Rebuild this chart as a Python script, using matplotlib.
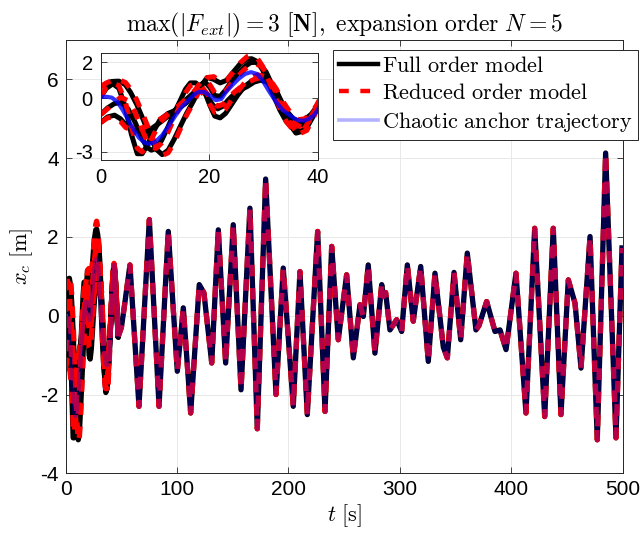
import matplotlib
matplotlib.use("Agg")
import matplotlib.pyplot as plt

plt.rcParams['mathtext.fontset'] = 'cm'
plt.rcParams['font.family'] = ['Liberation Sans', 'DejaVu Sans']
plt.rcParams['axes.unicode_minus'] = False

# ---------------- data ----------------
# shared (converged) trajectory, t >= 47.2 s
common_t = [47.2, 50, 52.5, 57.7, 65.8, 75.1, 83.8, 92.1, 100.2, 105.6, 112.2, 119.9, 124.1,
            131.1, 137, 143.6, 150.4, 157.4, 165.4, 172, 179.5, 188.8, 195.3, 204.3, 210.3,
            216.9, 226.2, 232.8, 238.8, 244.7, 252.2, 258.2, 264.2, 267.2, 271.6, 277.6,
            283.7, 285.1, 287.2, 291.1, 297.1, 301.6, 306.7, 312, 318.7, 325.5, 331.5, 339,
            342.6, 348.6, 354.6, 360.5, 368.3, 371, 377.9, 385.4, 389.9, 395.3, 404.2, 413.2,
            421, 430, 437.7, 444.6, 451.2, 457.2, 462.6, 470.7, 477.2, 484.7, 494, 499.4]
common_x = [-0.52, -0.3, 0.2, 1.29, -2.30, 2.44, -2.30, 2.14, -1.41, 0.20, -2.47, 0.79, 0.58,
            -1.2, 2.18, -1.2, 2.31, -1.88, 2.73, -2.87, 3.47, -2.0, 1.21, -2.30, 1.12,
            -2.51, 2.14, -2.43, 1.76, -0.61, 1.04, -1.07, 0.28, -0.02, 1.29, -0.95,
            0.79, 0.49, 0.59, -0.36, -0.10, -0.40, 1.29, -0.14, 1.25, -1.16, 1.08, -0.8,
            -1.07, 1.10, -0.61, 1.59, -0.36, -0.25, 0.36, -0.40, -0.36, -0.86, 1.08, -2.47,
            2.22, -2.56, 2.22, -2.51, 0.91, 0.32, -1.33, 2.01, -3.15, 4.13, -3.10, 1.72]

# chaotic anchor trajectory, initial transient
anchor_t = [0, 1, 2, 3, 4, 5, 6, 7, 8, 8.9, 10, 11.3, 12.5, 13.8, 15, 16.2, 17.2, 18, 19, 20.1,
            21.2, 22.2, 23.1, 24.3, 25.5, 26.6, 27.7, 28.8, 29.8, 31, 32.3, 33.5, 34.8, 35.8,
            36.6, 37.6, 38.5, 39.3, 40, 41, 42, 42.8, 43.4, 44.2, 45, 46.1, 47.2]
anchor_x = [0.07, 0.08, 0.03, -0.2, -0.65, -1.2, -1.75, -2.2, -2.48, -2.55, -2.45, -2.07, -1.55,
            -0.95, -0.45, -0.1, 0.2, 0.35, 0.35, 0.15, -0.11, -0.05, 0.35, 0.75, 1.1, 1.35, 1.45,
            1.35, 1.0, 0.4, -0.2, -0.65, -0.95, -1.15, -1.25, -1.25, -1.14, -0.95, -0.67, -0.05,
            0.6, 1.1, 1.29, 1.15, 0.6, 0.0, -0.52]

# full order model, initial transients (4 initial conditions)
full1_t = [0, 1, 2, 3.3, 4.5, 5.5, 6.6, 7.8, 9, 10.2, 11.3, 12.4, 13.5, 14.6, 15.8, 17, 18.3,
           19.6, 20.8, 22, 23.2, 24.4, 25.8, 27, 27.8, 28.8, 29.8, 30.8, 32, 33, 34.2, 35.5,
           36.9, 38, 39.2, 40.2, 41.3, 42.4, 43.4, 44.4, 45.4, 46.3, 47.2]
full1_x = [0.65, 0.82, 0.93, 0.95, 0.75, 0.3, -0.35, -1.2, -2.1, -2.85, -3.15, -2.9, -2.3, -1.6,
           -0.85, -0.2, 0.6, 1.15, 1.05, 0.85, 1.0, 1.45, 1.95, 2.18, 2.2, 2.05, 1.6, 0.95, 0.05,
           -0.65, -1.3, -1.7, -1.85, -1.65, -1.0, -0.3, 0.45, 1.05, 1.3, 1.1, 0.45, -0.15, -0.52]
full2_t = [0, 1, 2.2, 3.3, 4.5, 5.6, 6.7, 7.6, 8.6, 9.8, 10.9, 12.4, 14, 15.8, 17.5, 18.4, 19.2,
           20.1, 21, 22, 23, 24, 25.2, 26.5, 27.6, 28.5, 29.5, 30.5, 31.5, 32.5, 33.5, 34.7, 36,
           37.2, 38.5, 39.5, 40.5, 41.6, 42.6, 43.4, 44.4, 45.5, 46.4, 47.2]
full2_x = [0.1, 0.55, 0.8, 0.55, -0.5, -2.0, -3.1, -3.1, -2.6, -1.8, -1.2, -0.85, -0.65, -0.25,
           0.4, 0.75, 0.9, 0.6, 0.15, 0.1, 0.45, 0.9, 1.35, 1.75, 1.98, 2.0, 1.85, 1.45, 0.8, 0.1,
           -0.6, -1.4, -1.95, -1.85, -1.2, -0.65, -0.1, 0.6, 1.1, 1.25, 1.0, 0.3, -0.15, -0.55]
full3_t = [0, 1.2, 2.5, 3.7, 5, 6.3, 7.5, 8.5, 9.3, 10.2, 11.2, 12.3, 13.4, 14.6, 15.6, 16.5,
           17.5, 18.6, 19.7, 20.7, 21.5, 22.5, 23.5, 24.5, 25.7, 27, 28.3, 29.5, 30.6, 31.8, 33,
           34.2, 35.4, 36.4, 37.2, 38.2, 39.2, 40.2, 41.3, 42.4, 43.4, 44.4, 45.5, 46.4, 47.2]
full3_x = [-0.9, -0.55, -0.3, -0.25, -0.6, -1.35, -2.2, -2.75, -2.9, -2.8, -2.35, -1.65, -0.9,
           -0.15, 0.5, 0.85, 0.85, 0.55, 0.05, -0.4, -0.6, -0.45, -0.1, 0.2, 0.45, 0.65, 0.9, 1.0,
           0.9, 0.55, -0.05, -0.7, -1.2, -1.45, -1.5, -1.3, -0.85, -0.3, 0.35, 0.95, 1.2, 1.0,
           0.5, -0.05, -0.5]
full4_t = [0, 1.2, 2.5, 3.6, 4.6, 5.7, 7, 8.2, 9.3, 10.5, 11.8, 13.2, 14.6, 16, 17.3, 18.3,
           19.2, 20.1, 21, 22, 23, 24, 25.2, 26.5, 27.8, 29, 30.3, 31.4, 32.4, 33.4, 34.5, 35.5,
           36.5, 37.6, 38.8, 39.8, 40.8, 41.8, 42.7, 43.4, 44.4, 45.5, 46.4, 47.2]
full4_x = [-1.35, -1.05, -0.95, -1.15, -1.5, -1.75, -1.85, -1.85, -1.7, -1.45, -1.15, -0.8,
           -0.4, 0.0, 0.35, 0.5, 0.3, -0.4, -1.0, -1.1, -0.85, -0.4, 0.15, 0.65, 0.95, 1.1, 1.05,
           0.85, 0.4, -0.25, -0.8, -1.15, -1.3, -1.2, -0.9, -0.5, 0.05, 0.65, 1.05, 1.2, 1.0,
           0.4, -0.1, -0.5]

# reduced order model, initial transients (same sampling instants as the full model)
red1_x = [0.65, 0.85, 0.98, 1.02, 0.88, 0.5, -0.1, -0.95, -1.85, -2.7, -3.2, -3.05, -2.5, -1.75,
          -0.95, -0.3, 0.5, 1.15, 1.2, 0.95, 1.0, 1.45, 2.0, 2.32, 2.4, 2.25, 1.8, 1.1, 0.2,
          -0.55, -1.3, -1.8, -1.95, -1.8, -1.1, -0.35, 0.45, 1.08, 1.33, 1.13, 0.47, -0.13, -0.5]
red2_x = [0.1, 0.6, 0.85, 0.7, -0.2, -1.6, -2.8, -3.0, -2.7, -2.0, -1.35, -0.9, -0.55, -0.1,
          0.5, 0.9, 1.0, 0.75, 0.3, 0.2, 0.4, 0.8, 1.2, 1.6, 1.85, 1.92, 1.8, 1.45, 0.85, 0.15,
          -0.55, -1.3, -1.85, -1.85, -1.25, -0.6, 0.0, 0.65, 1.15, 1.3, 1.05, 0.35, -0.1, -0.5]
red3_x = [-0.9, -0.6, -0.2, 0.05, -0.15, -0.8, -1.7, -2.4, -2.75, -2.8, -2.5, -1.95, -1.2, -0.4,
          0.3, 0.7, 0.8, 0.65, 0.2, -0.25, -0.45, -0.35, -0.05, 0.3, 0.6, 0.85, 1.05, 1.15, 1.0,
          0.6, 0.0, -0.75, -1.3, -1.55, -1.6, -1.35, -0.8, -0.2, 0.45, 1.0, 1.3, 1.05, 0.45,
          -0.05, -0.52]
red4_x = [-1.35, -1.1, -1.05, -1.3, -1.65, -1.75, -1.7, -1.6, -1.45, -1.25, -1.0, -0.7, -0.35,
          0.05, 0.3, 0.4, 0.15, -0.35, -0.8, -0.85, -0.6, -0.15, 0.35, 0.85, 1.15, 1.3, 1.2,
          0.95, 0.5, -0.1, -0.6, -1.0, -1.2, -1.15, -0.85, -0.4, 0.1, 0.7, 1.1, 1.25, 1.05,
          0.45, -0.05, -0.5]

full_early = [(full1_t, full1_x), (full2_t, full2_x), (full3_t, full3_x), (full4_t, full4_x)]
red_early = [(full1_t, red1_x), (full2_t, red2_x), (full3_t, red3_x), (full4_t, red4_x)]

x_ticks = [0, 100, 200, 300, 400, 500]
y_ticks = [-4, -2, 0, 2, 4, 6]
inset_x_ticks = [0, 20, 40]
inset_y_ticks = [-3, 0, 2]

labels = [r'$\mathrm{Full\ order\ model}$', r'$\mathrm{Reduced\ order\ model}$',
          r'$\mathrm{Chaotic\ anchor\ trajectory}$']

# ---------------- drawing ----------------
LW = 3.8
DASH = (2.2, 2.2)
axcol = '#262626'

fig = plt.figure(figsize=(6.42, 5.36), dpi=100)
ax = fig.add_axes([0.1023, 0.117, 0.8676, 0.8084])
ins = fig.add_axes([0.1573, 0.7015, 0.3375, 0.199])


def draw(a, blue_alpha, lw_scale=1.0):
    lw = LW * lw_scale
    for tt, xx in full_early:
        a.plot(tt, xx, color='black', lw=lw, solid_joinstyle='round', solid_capstyle='round')
    a.plot(common_t, common_x, color='black', lw=lw, solid_joinstyle='round')
    for tt, xx in red_early:
        a.plot(tt, xx, color='red', lw=lw, linestyle=(0, DASH), dash_joinstyle='round')
    a.plot(common_t, common_x, color='red', lw=lw, linestyle=(0, DASH), dash_joinstyle='round')
    a.plot(anchor_t + common_t[1:], anchor_x + common_x[1:], color='blue',
           lw=lw * 0.82, alpha=blue_alpha, solid_joinstyle='round')


draw(ax, 0.3)
draw(ins, 0.8, 0.95)

for a in (ax, ins):
    a.grid(True, color='#e8e8e8', lw=0.7)
    a.set_axisbelow(True)
    a.tick_params(direction='in', top=True, right=True, length=4, width=0.6, colors=axcol,
                  labelcolor='black')
    for s in a.spines.values():
        s.set_color(axcol)
        s.set_linewidth(0.7)

ax.set_xlim(0, 500)
ax.set_ylim(-4, 7)
ax.set_xticks(x_ticks)
ax.set_yticks(y_ticks)
ax.tick_params(labelsize=15, pad=5)
ax.set_xlabel(r'$t\ [\mathrm{s}]$', fontsize=16, labelpad=2)
ax.set_ylabel(r'$x_c\ [\mathrm{m}]$', fontsize=16, labelpad=4)
ax.set_title(r'$\max(|F_{ext}|) = 3\ [\mathbf{N}]\mathrm{,\ expansion\ order\ }N = 5$',
             fontsize=17, pad=6)

ins.set_xlim(0, 40)
ins.set_ylim(-3.45, 2.5)
ins.set_xticks(inset_x_ticks)
ins.set_yticks(inset_y_ticks)
ins.tick_params(labelsize=14.5, pad=6)

lhf = plt.Line2D([], [], color='black', lw=3.2)
lhr = plt.Line2D([], [], color='red', lw=3.2, linestyle=(0, (2.2, 2.6)))
lhb = plt.Line2D([], [], color='blue', alpha=0.3, lw=2.6)
leg = fig.legend([lhf, lhr, lhb], labels, loc='upper left', bbox_to_anchor=(0.519, 0.9067),
                 bbox_transform=fig.transFigure, borderaxespad=0, fontsize=16,
                 handlelength=1.75, handletextpad=0.2, labelspacing=0.28, borderpad=0.25,
                 fancybox=False, framealpha=1, edgecolor='#262626')
leg.get_frame().set_linewidth(0.7)

fig.savefig('out.png', dpi=100)
